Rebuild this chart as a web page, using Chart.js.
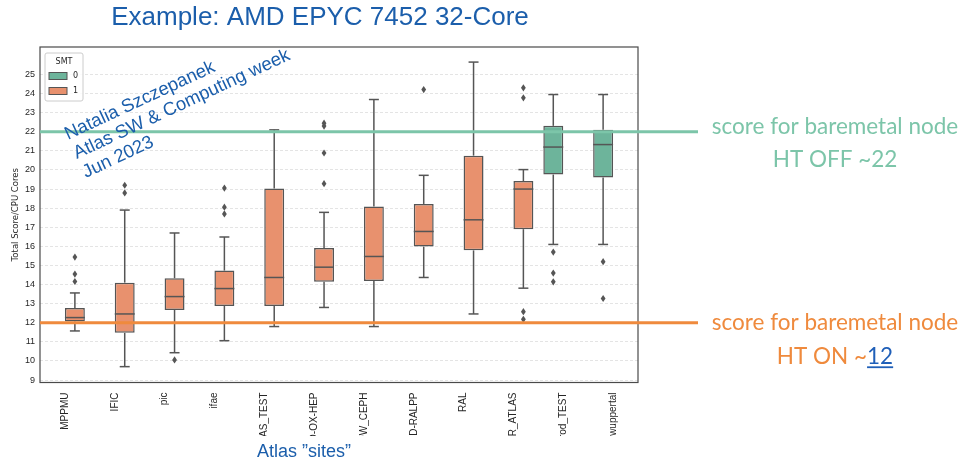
<!DOCTYPE html>
<html>
<head>
<meta charset="utf-8">
<title>AMD EPYC 7452 32-Core</title>
<script src="https://cdn.jsdelivr.net/npm/chart.js@4"></script>
<style>
  html, body { margin: 0; padding: 0; background: #fff; }
  #wrap { width: 967px; height: 461px; }
</style>
</head>
<body>
<div id="wrap"><canvas id="scoreChart" width="967" height="461"></canvas></div>
<script>
/* global Chart */

// ---------------------------------------------------------------------------
// Data: per-site score distribution (box stats) and SMT flag
// ---------------------------------------------------------------------------

const sites       = ['MPPMU', 'IFIC', 'pic', 'ifae', 'LAS_TEST', 'O-OX-HEP', 'OW_CEPH', 'ID-RALPP', 'RAL', 'ER_ATLAS', 'rod_TEST', 'wuppertal'];
const smt         = [1, 1, 1, 1, 1, 1, 1, 1, 1, 1, 0, 0];
const whiskerLow  = [11.57,  9.70, 10.43, 11.06, 11.80, 12.80, 11.80, 14.37, 12.46, 13.81, 16.10, 16.10];
const q1          = [12.07, 11.47, 12.67, 12.88, 12.88, 14.14, 14.19, 15.99, 15.79, 16.90, 19.76, 19.60];
const median      = [12.27, 12.46, 13.37, 13.79, 14.37, 14.91, 15.47, 16.78, 17.39, 19.00, 21.20, 21.33];
const q3          = [12.77, 14.10, 14.33, 14.73, 19.03, 15.91, 18.09, 18.22, 20.75, 19.42, 22.31, 22.10];
const whiskerHigh = [13.56, 17.90, 16.70, 16.49, 22.10, 17.78, 23.69, 19.72, 25.65, 20.02, 23.95, 23.95];
const outliers    = [
    [15.44, 14.55, 14.16],
    [19.20, 18.80],
    [10.05],
    [19.05, 18.05, 17.70],
    [],
    [22.45, 22.30, 20.89, 19.28],
    [],
    [24.21],
    [],
    [24.30, 23.78, 12.58, 12.18],
    [15.70, 14.60, 14.14],
    [15.20, 13.27],
];

const smtLevels   = ['0', '1'];
const smtColors   = ['#6db49b', '#e8916e'];

// baremetal reference scores
const refScores   = [22.0, 12.0];
const refColors   = ['#7cc5a9', '#ef8a3d'];
const refText     = [
    ['score for baremetal node', 'HT OFF ~22'],
    ['score for baremetal node', 'HT ON ~12'],
];

const yTicks      = [9, 10, 11, 12, 13, 14, 15, 16, 17, 18, 19, 20, 21, 22, 23, 24, 25];

const EDGE  = '#555555';
const BLUE  = '#1b5eab';
const SANS  = '"Liberation Sans", Arial, sans-serif';
const PLOT  = '"DejaVu Sans", sans-serif';
const CALI  = 'Lato, "Open Sans", sans-serif';

// ---------------------------------------------------------------------------
// Datasets: floating bars hold the interquartile box, one dataset per SMT level
// ---------------------------------------------------------------------------

const datasets = smtLevels.map((lvl, k) => ({
    label:           lvl,
    data:            sites.map((s, i) => String(smt[i]) === lvl ? [q1[i], q3[i]] : null),
    backgroundColor: smtColors[k],
    borderColor:     EDGE,
    borderWidth:     1.5,
    borderSkipped:   false,
    categoryPercentage: 0.8,
    barPercentage:   1.0,
}));

// ---------------------------------------------------------------------------
// Plugins
// ---------------------------------------------------------------------------

function strokeLine(ctx, x1, y1, x2, y2) {
    ctx.beginPath();
    ctx.moveTo(x1, y1);
    ctx.lineTo(x2, y2);
    ctx.stroke();
}

// the figure is cut just below the site names
const cropBand = {
    id: 'cropBand',
    beforeDraw(chart) {
        const ctx = chart.ctx;
        ctx.save();
        ctx.beginPath();
        ctx.rect(0, 0, chart.width, 436);
        ctx.clip();
    },
    afterDraw(chart) {
        chart.ctx.restore();
    },
};

// plot frame on all four sides
const frame = {
    id: 'frame',
    beforeDatasetsDraw(chart) {
        const { ctx, chartArea: a } = chart;
        ctx.save();
        ctx.strokeStyle = '#4a4a4a';
        ctx.lineWidth = 1.2;
        ctx.strokeRect(a.left, a.top, a.right - a.left, a.bottom - a.top);
        ctx.restore();
    },
};

// medians, whiskers, caps and fliers on top of the bars
const boxParts = {
    id: 'boxParts',
    afterDatasetsDraw(chart) {
        const ctx = chart.ctx;
        const y = chart.scales.y;
        chart.data.datasets.forEach((ds, di) => {
            const meta = chart.getDatasetMeta(di);
            meta.data.forEach((bar, i) => {
                if (ds.data[i] == null) return;
                const x = bar.x, half = bar.width / 2, cap = bar.width / 4;
                ctx.save();
                ctx.strokeStyle = EDGE;
                ctx.lineWidth = 1.5;
                strokeLine(ctx, x, y.getPixelForValue(q3[i]), x, y.getPixelForValue(whiskerHigh[i]));
                strokeLine(ctx, x, y.getPixelForValue(q1[i]), x, y.getPixelForValue(whiskerLow[i]));
                strokeLine(ctx, x - cap, y.getPixelForValue(whiskerHigh[i]), x + cap, y.getPixelForValue(whiskerHigh[i]));
                strokeLine(ctx, x - cap, y.getPixelForValue(whiskerLow[i]), x + cap, y.getPixelForValue(whiskerLow[i]));
                strokeLine(ctx, x - half, y.getPixelForValue(median[i]), x + half, y.getPixelForValue(median[i]));
                ctx.fillStyle = EDGE;
                outliers[i].forEach(v => {
                    const py = y.getPixelForValue(v);
                    ctx.beginPath();
                    ctx.moveTo(x, py - 3.6);
                    ctx.lineTo(x + 2.4, py);
                    ctx.lineTo(x, py + 3.6);
                    ctx.lineTo(x - 2.4, py);
                    ctx.closePath();
                    ctx.fill();
                });
                ctx.restore();
            });
        });
    },
};

// baremetal reference lines and their notes on the right
const refLines = {
    id: 'refLines',
    afterDatasetsDraw(chart) {
        const { ctx, chartArea: a } = chart;
        const y = chart.scales.y;
        const baseOffsets = [[2, 35], [7, 41]];
        refScores.forEach((v, k) => {
            const py = y.getPixelForValue(v);
            ctx.save();
            ctx.strokeStyle = refColors[k];
            ctx.lineWidth = 3;
            strokeLine(ctx, a.left, py, a.right + 60, py);

            ctx.fillStyle = refColors[k];
            ctx.font = '22.5px ' + CALI;
            ctx.textBaseline = 'alphabetic';
            ctx.textAlign = 'center';
            const cx = a.right + 197;
            ctx.fillText(refText[k][0], cx, py + baseOffsets[k][0]);

            // second line, the "12" is a blue link in the ON note
            const txt = refText[k][1];
            const m = txt.match(/^(.*~)(\d+)$/);
            const head = k === 1 ? m[1] : txt;
            const tail = k === 1 ? m[2] : '';
            const wHead = ctx.measureText(head).width;
            const wTail = ctx.measureText(tail).width;
            const left = cx - (wHead + wTail) / 2;
            const by = py + baseOffsets[k][1];
            ctx.textAlign = 'left';
            ctx.fillText(head, left, by);
            if (tail) {
                ctx.fillStyle = '#1f5fb8';
                ctx.fillText(tail, left + wHead, by);
                ctx.strokeStyle = '#1f5fb8';
                ctx.lineWidth = 1.8;
                strokeLine(ctx, left + wHead, by + 3.5, left + wHead + wTail, by + 3.5);
            }
            ctx.restore();
        });
    },
};

// matplotlib-style legend box in the upper left of the plot
const smtLegend = {
    id: 'smtLegend',
    afterDatasetsDraw(chart) {
        const { ctx, chartArea: a } = chart;
        const x0 = a.left + 5, y0 = a.top + 6, w = 38, h = 48;
        ctx.save();
        ctx.fillStyle = 'rgba(255,255,255,0.85)';
        ctx.strokeStyle = '#cccccc';
        ctx.lineWidth = 1;
        ctx.beginPath();
        ctx.roundRect(x0, y0, w, h, 2);
        ctx.fill();
        ctx.stroke();
        ctx.fillStyle = '#262626';
        ctx.font = '8px ' + PLOT;
        ctx.textAlign = 'center';
        ctx.textBaseline = 'middle';
        ctx.fillText('SMT', x0 + w / 2, y0 + 9);
        chart.data.datasets.forEach((ds, k) => {
            const py = y0 + 23 + k * 15;
            ctx.fillStyle = ds.backgroundColor;
            ctx.fillRect(x0 + 4, py - 3.5, 18, 7);
            ctx.strokeStyle = EDGE;
            ctx.lineWidth = 1;
            ctx.strokeRect(x0 + 4, py - 3.5, 18, 7);
            ctx.fillStyle = '#262626';
            ctx.textAlign = 'left';
            ctx.fillText(ds.label, x0 + 28, py);
        });
        ctx.restore();
    },
};

// page title, x axis caption and the slanted author stamp
const pageText = {
    id: 'pageText',
    afterDraw(chart) {
        const { ctx, chartArea: a } = chart;
        ctx.save();
        ctx.fillStyle = BLUE;
        ctx.textBaseline = 'alphabetic';
        ctx.textAlign = 'center';
        ctx.font = '26px ' + SANS;
        ctx.fillText('Example: AMD EPYC 7452 32-Core', 320, 25);
        ctx.font = '18px ' + SANS;
        ctx.fillText('Atlas \u201dsites\u201d', 304, 457);

        ctx.translate(a.left + 28, 140);
        ctx.rotate(-25 * Math.PI / 180);
        ctx.textAlign = 'left';
        ctx.font = '18.5px ' + SANS;
        ['Natalia Szczepanek', 'Atlas SW & Computing week', 'Jun 2023'].forEach((t, k) => {
            ctx.fillText(t, 0, k * 21);
        });
        ctx.restore();
    },
};

// ---------------------------------------------------------------------------
// Chart
// ---------------------------------------------------------------------------

new Chart(document.getElementById('scoreChart').getContext('2d'), {
    type: 'bar',
    data: { labels: sites, datasets },
    plugins: [cropBand, frame, boxParts, refLines, smtLegend, pageText],
    options: {
        responsive:  false,
        animation:   false,
        layout:      { padding: { left: 0, top: 47, right: 329, bottom: 0 } },
        plugins:     { legend: { display: false }, tooltip: { enabled: false } },
        scales: {
            x: {
                grid:   { display: false },
                border: { display: false },
                ticks:  {
                    color: '#262626', font: { family: SANS, size: 10 },
                    minRotation: 90, maxRotation: 90, padding: 2, autoSkip: false,
                },
                afterFit(scale) { scale.height = 78.5; },
            },
            y: {
                min: 8.87,
                max: 26.44,
                grid:   { color: '#dddddd', lineWidth: 0.8, drawTicks: false },
                border: { display: false, dash: [3, 2] },
                ticks:  { color: '#262626', font: { family: SANS, size: 9 }, padding: 5, stepSize: 1 },
                afterBuildTicks(scale) { scale.ticks = yTicks.map(v => ({ value: v })); },
                afterFit(scale) { scale.width = 40; },
                title: {
                    display: true, text: 'Total Score/CPU Cores',
                    color: '#262626', font: { family: PLOT, size: 8.5 }, padding: { top: 11, bottom: 0 },
                },
            },
        },
    },
});
</script>
</body>
</html>
